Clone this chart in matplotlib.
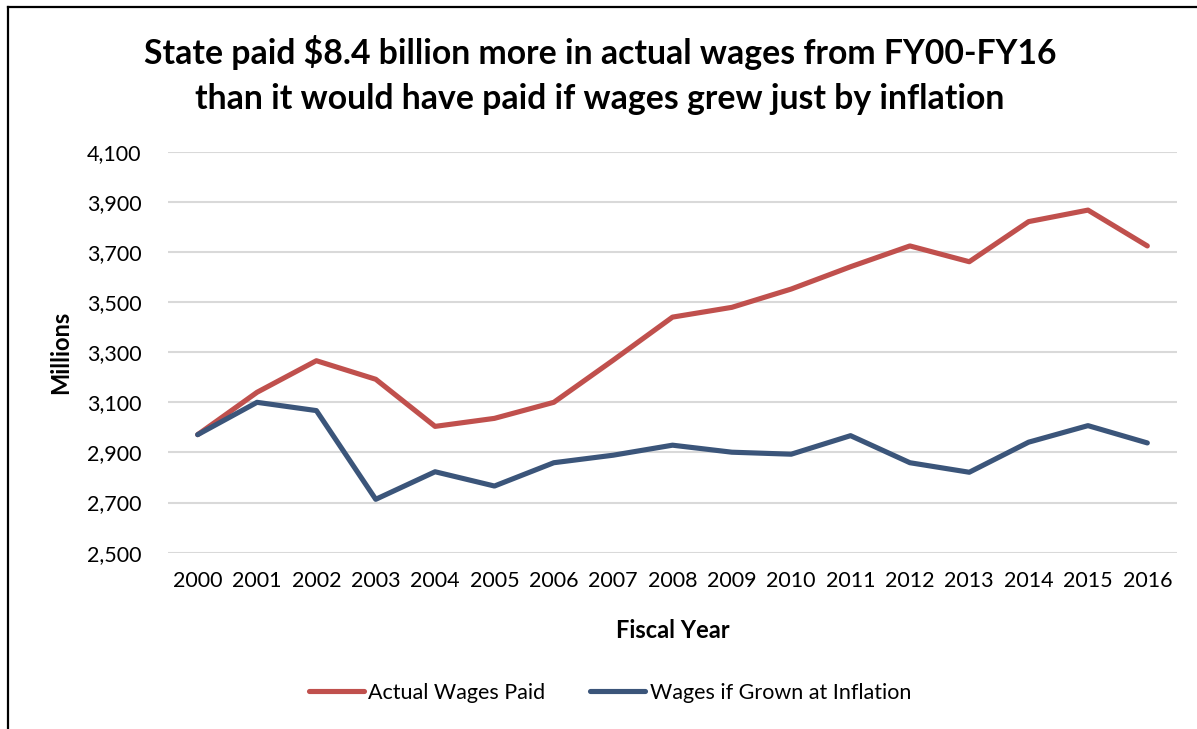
import matplotlib
matplotlib.use("Agg")
import matplotlib.pyplot as plt
import matplotlib.lines as mlines
from matplotlib.ticker import FuncFormatter

plt.rcParams['font.family'] = ['Lato', 'DejaVu Sans']

# Fiscal years and wages (millions of dollars)
years = [2000, 2001, 2002, 2003, 2004, 2005, 2006, 2007, 2008,
         2009, 2010, 2011, 2012, 2013, 2014, 2015, 2016]
actual_wages = [2971, 3140, 3266, 3192, 3004, 3036, 3100, 3268, 3440,
                3479, 3552, 3641, 3724, 3661, 3821, 3867, 3724]
inflation_wages = [2971, 3100, 3067, 2713, 2823, 2766, 2859, 2889, 2929,
                   2901, 2893, 2967, 2859, 2821, 2941, 3007, 2938]
y_ticks = list(range(2500, 4101, 200))

title = ("State paid $8.4 billion more in actual wages from FY00-FY16\n"
         "than it would have paid if wages grew just by inflation")

red = '#C0504D'
blue = '#3B557A'

fig = plt.figure(figsize=(11.97, 7.29), dpi=100)
ax = fig.add_axes([168 / 1197, 1 - 552.7 / 729, (1177 - 168) / 1197, 401 / 729])

x = list(range(len(years)))
ax.plot(x, actual_wages, color=red, lw=3.7, solid_joinstyle='round',
        solid_capstyle='round', label='Actual Wages Paid', zorder=3)
ax.plot(x, inflation_wages, color=blue, lw=3.7, solid_joinstyle='round',
        solid_capstyle='round', label='Wages if Grown at Inflation', zorder=3)

ax.set_xlim(-0.5, len(years) - 0.5)
ax.set_ylim(2500, 4100)
ax.set_xticks(x)
ax.set_xticklabels([str(y) for y in years])
ax.set_yticks(y_ticks)
ax.yaxis.set_major_formatter(FuncFormatter(lambda v, p: f"{int(v):,}"))
ax.tick_params(length=0, labelsize=15.5, colors='black')
ax.tick_params(axis='x', pad=13)
ax.tick_params(axis='y', pad=19)
ax.grid(axis='y', color='#d9d9d9', lw=1.5)
ax.set_axisbelow(True)
for s in ax.spines.values():
    s.set_visible(False)

ax.set_xlabel('Fiscal Year', fontsize=17, fontweight='bold', labelpad=20)
ax.set_ylabel('Millions', fontsize=17, fontweight='bold', labelpad=11)

fig.text(600 / 1197, 1 - 75 / 729, title, ha='center', va='center',
         fontsize=24.3, fontweight='bold', linespacing=1.5)

fig.legend(loc='center', bbox_to_anchor=(610 / 1197, 1 - 693 / 729), ncol=2,
           frameon=False, fontsize=15.5, handlelength=2.55, handletextpad=0.2,
           columnspacing=2.1)

# chart frame (left and top edges)
fig.add_artist(mlines.Line2D([8 / 1197, 8 / 1197], [0, 1 - 7 / 729],
                             color='black', lw=1.6, transform=fig.transFigure))
fig.add_artist(mlines.Line2D([8 / 1197, 1], [1 - 7 / 729, 1 - 7 / 729],
                             color='black', lw=1.6, transform=fig.transFigure))

fig.savefig('out.png', dpi=100)
